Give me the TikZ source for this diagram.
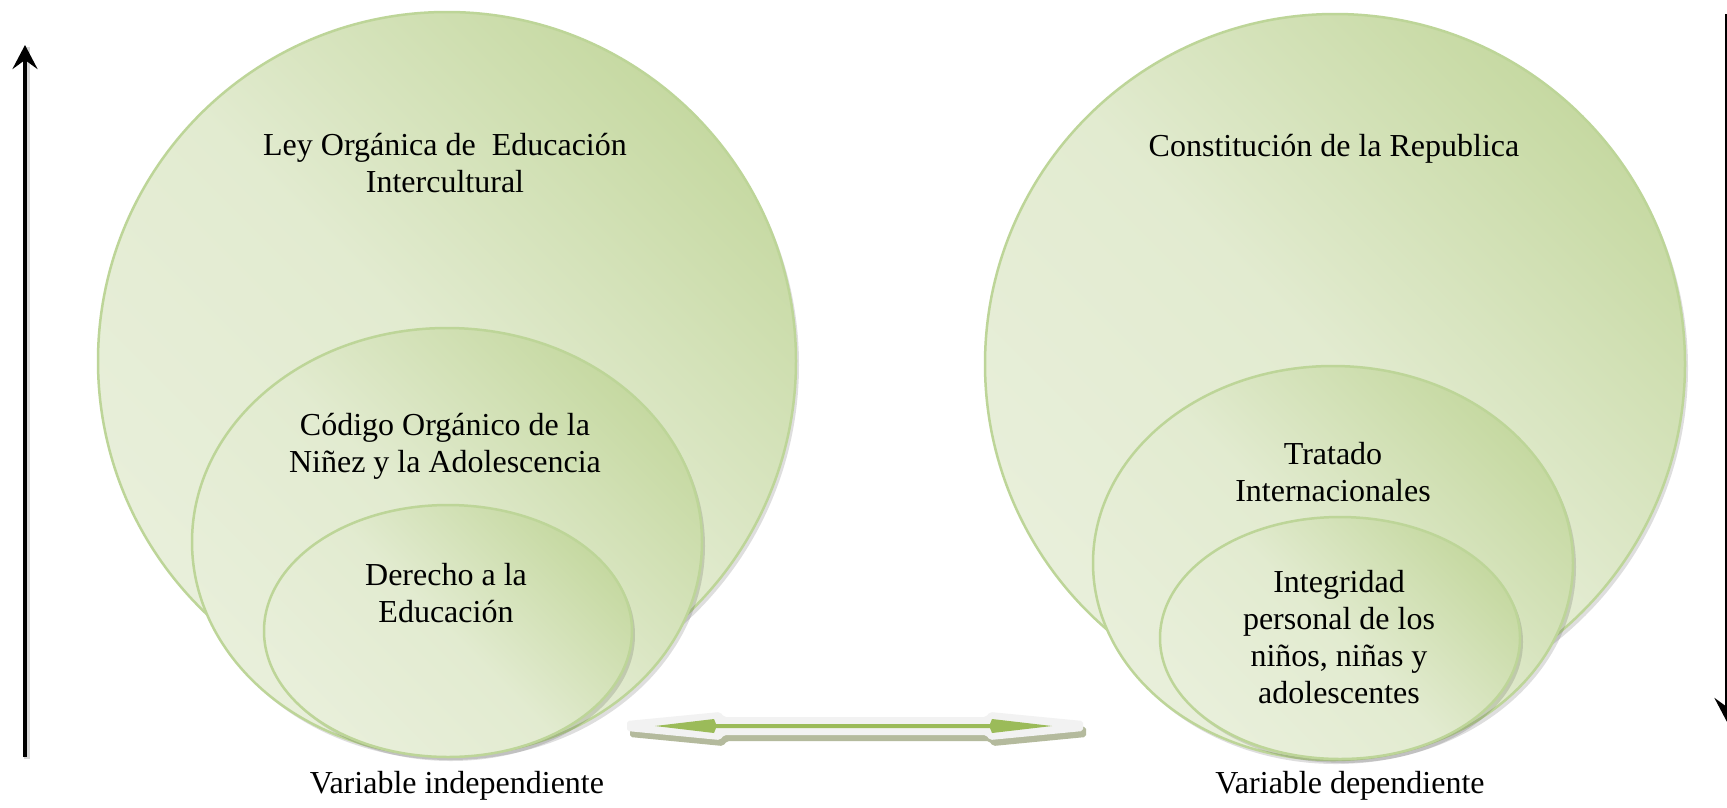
\documentclass[tikz,border=0pt]{standalone}
\usepackage{fontspec}
\setmainfont{Liberation Serif}
\usetikzlibrary{arrows.meta}
\definecolor{gLight}{HTML}{EDF2E2}
\definecolor{gDark}{HTML}{C6D9A2}
\definecolor{gEdge}{HTML}{BDD598}
\definecolor{arrowGreen}{HTML}{9BBB59}
\definecolor{arrowWhite}{HTML}{F2F2F2}
\definecolor{arrowShadow}{HTML}{A8AF8C}
\colorlet{gMid}{gLight!72!gDark}
\colorlet{gLow}{gLight!88!gDark}
\tikzset{
  bubble/.style={draw=gEdge, line width=2.5pt, top color=gDark, bottom color=gLow, middle color=gMid, shading angle=-45},
  bubshadow/.style={fill=black, opacity=0.13},
  lbl/.style={font=\fontsize{32}{37}\selectfont, align=center, anchor=base, inner sep=0pt},
  axisarrow/.style={line width=4.5pt, -{Stealth[length=24pt,width=25pt,inset=9pt]}},
}
\begin{document}
\begin{tikzpicture}[x=1pt,y=-1pt]
\clip (0,0) rectangle (1727,807);
\fill[white] (0,0) rectangle (1727,807);

% ---------- left group ----------
\fill[bubshadow] (450,365) circle[radius=349pt];
\path[bubble] (447,361) circle[radius=349pt];
\fill[bubshadow] (450,546) ellipse[x radius=255pt, y radius=214pt];
\path[bubble] (447,542) ellipse[x radius=255pt, y radius=214pt];
\fill[bubshadow] (451,635) ellipse[x radius=184pt, y radius=126pt];
\path[bubble] (448,631) ellipse[x radius=184pt, y radius=126pt];

% ---------- right group ----------
\fill[bubshadow] (1338,368) circle[radius=350pt];
\path[bubble] (1335,364) circle[radius=350pt];
\fill[bubshadow] (1336,567) ellipse[x radius=240pt, y radius=197pt];
\path[bubble] (1333,563) ellipse[x radius=240pt, y radius=197pt];
\fill[bubshadow] (1343,642) ellipse[x radius=180pt, y radius=121pt];
\path[bubble] (1340,638) ellipse[x radius=180pt, y radius=121pt];

% ---------- texts (anchor = baseline of last line) ----------
\node[lbl] (t1) at (445,192) {Ley Orgánica de\ \ Educación\\Intercultural};
\node[lbl] (t2) at (445,472) {Código Orgánico de la\\Niñez y la Adolescencia};
\node[lbl] (t3) at (446,622) {Derecho a la\\Educación};
\node[lbl] (t4) at (1334,156) {Constitución de la Republica};
\node[lbl] (t5) at (1333,501) {Tratado\\Internacionales};
\node[lbl] (t6) at (1339,703) {Integridad\\personal de los\\niños, niñas y\\adolescentes};
\node[lbl] (t7) at (457,793) {Variable independiente};
\node[lbl] (t8) at (1350,793) {Variable dependiente};

% ---------- vertical arrows ----------
\coordinate (la1) at (25,757);
\coordinate (la2) at (25,45);
\draw[black!30, line width=6pt, opacity=0.5] ([xshift=2pt,yshift=-2pt]la1) -- ([xshift=2pt,yshift=-2pt]la2);
\draw[axisarrow] (la1) -- (la2);
\coordinate (ra1) at (1727,14);
\coordinate (ra2) at (1727,722);
\draw[axisarrow] (ra1) -- (ra2);

% ---------- double arrow ----------
\begin{scope}[rounded corners=2pt]
\fill[arrowShadow, opacity=0.85, shift={(3,6)}]
  (627,721) -- (720,712) -- (724,717) -- (986,717) -- (990,712) -- (1083,721)
  -- (1083,731) -- (990,740) -- (986,735) -- (724,735) -- (720,740) -- (627,731) -- cycle;
\fill[arrowWhite]
  (627,721) -- (720,712) -- (724,717) -- (986,717) -- (990,712) -- (1083,721)
  -- (1083,731) -- (990,740) -- (986,735) -- (724,735) -- (720,740) -- (627,731) -- cycle;
\end{scope}
\fill[arrowGreen]
  (655,726) -- (714,719) -- (716,724) -- (990,724) -- (992,719) -- (1052,726)
  -- (992,733) -- (990,728) -- (716,728) -- (714,733) -- cycle;
\end{tikzpicture}
\end{document}
